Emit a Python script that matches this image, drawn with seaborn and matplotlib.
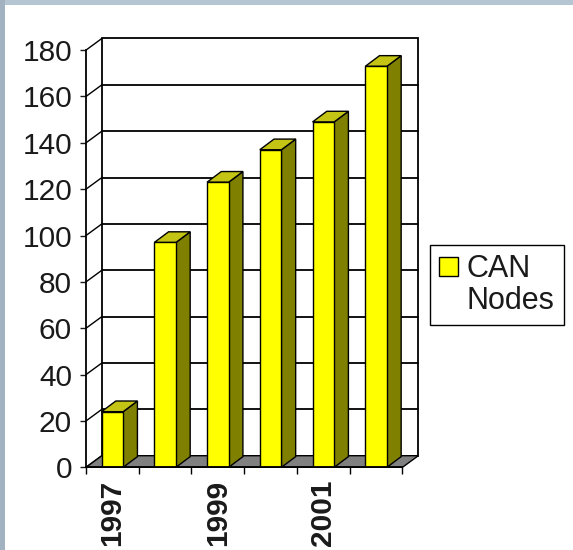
import matplotlib
matplotlib.use('Agg')
import numpy as np
import pandas as pd
import matplotlib.pyplot as plt
import seaborn as sns
from matplotlib.patches import Polygon, Rectangle, Patch

# ---- data ----
years = ['1997', '1998', '1999', '2000', '2001', '2002']
can_nodes = [24, 97, 123, 137, 149, 173]
shown_year_labels = ['1997', '1999', '2001']
y_ticks = [0, 20, 40, 60, 80, 100, 120, 140, 160, 180]
series_name_lines = ['CAN', 'Nodes']

# ---- style ----
sns.set_theme(style='white')
plt.rcParams['font.family'] = ['Liberation Sans', 'DejaVu Sans']

W, H = 573, 550
fig = plt.figure(figsize=(W / 100, H / 100), dpi=100, facecolor='white')

# frame strips (top & left)
fig.patches.append(Rectangle((0, 1 - 5 / H), 1, 5 / H, transform=fig.transFigure,
                             facecolor='#b5c5d1', edgecolor='none', zorder=-5))
fig.patches.append(Rectangle((0, 0), 5 / W, 1, transform=fig.transFigure,
                             facecolor='#a2b2c0', edgecolor='none', zorder=-4))

ax = fig.add_axes([86 / W, 82.7 / H, (418.3 - 86) / W, (467.3 - 38.5) / H])
ax.set_facecolor('none')

DX, DY = 0.30, 5.0      # wall depth offset (data units)
BDX, BDY = 0.27, 4.6    # bar depth offset

df = pd.DataFrame({'year': years, 'nodes': can_nodes})
sns.barplot(data=df, x='year', y='nodes', color='#ffff00', saturation=1,
            width=0.41, edgecolor='black', linewidth=1, ax=ax, zorder=5)

ymax = y_ticks[-1]
x_lo, x_hi = -0.5, len(years) - 0.5

# back wall
ax.add_patch(Polygon([(x_lo + DX, DY), (x_hi + DX, DY), (x_hi + DX, ymax + DY),
                      (x_lo + DX, ymax + DY)], closed=True, facecolor='white',
                     edgecolor='black', lw=1.3, zorder=0.5, clip_on=False))
for v in y_ticks[1:-1]:
    ax.plot([x_lo + DX, x_hi + DX], [v + DY, v + DY], color='black', lw=1.3,
            zorder=1, clip_on=False)
for v in y_ticks:
    ax.plot([x_lo, x_lo + DX], [v, v + DY], color='black', lw=1, zorder=1,
            clip_on=False)

# floor
ax.add_patch(Polygon([(x_lo, 0), (x_hi, 0), (x_hi + DX, DY), (x_lo + DX, DY)],
                     closed=True, facecolor='#808080', edgecolor='black',
                     lw=1, zorder=2, clip_on=False))

# 3D sides and tops for bars
for bar in ax.containers[0]:
    x0, w, h = bar.get_x(), bar.get_width(), bar.get_height()
    ax.add_patch(Polygon([(x0 + w, 0), (x0 + w + BDX, BDY), (x0 + w + BDX, h + BDY),
                          (x0 + w, h)], closed=True, facecolor='#808000',
                         edgecolor='black', lw=1, zorder=4, clip_on=False))
    ax.add_patch(Polygon([(x0, h), (x0 + w, h), (x0 + w + BDX, h + BDY),
                          (x0 + BDX, h + BDY)], closed=True, facecolor='#c4c414',
                         edgecolor='black', lw=1, zorder=4, clip_on=False))

ax.set_xlim(x_lo, x_hi + DX)
ax.set_ylim(0, ymax + DY)

for s in ['top', 'right']:
    ax.spines[s].set_visible(False)
for s in ['left', 'bottom']:
    ax.spines[s].set_color('black')
    ax.spines[s].set_linewidth(1.3)
    ax.spines[s].set_zorder(6)
ax.spines['left'].set_bounds(0, ymax)
ax.spines['bottom'].set_bounds(x_lo, x_hi)

ax.set_yticks(y_ticks)
ax.set_yticklabels([str(v) for v in y_ticks])
ax.tick_params(axis='y', left=True, direction='out', length=4, width=1,
               pad=6, labelsize=21.5, colors='#1a1a1a')

major_pos = [years.index(y) for y in shown_year_labels]
ax.set_xticks(major_pos)
ax.set_xticklabels(shown_year_labels, rotation=90, fontweight='bold')
ax.set_xticks(np.arange(x_lo, x_hi + 0.01, 1.0), minor=True)
ax.tick_params(axis='x', which='major', bottom=True, length=0, pad=9,
               labelsize=21.5, colors='#1a1a1a')
ax.tick_params(axis='x', which='minor', bottom=True, direction='out', length=5,
               width=1, color='black')
ax.set_xlabel('')
ax.set_ylabel('')
ax.grid(False)

handles = [Patch(facecolor='#ffff00', edgecolor='black', lw=1),
           Patch(facecolor='none', edgecolor='none')]
leg = ax.legend(handles=handles, labels=series_name_lines, loc='upper left',
                bbox_to_anchor=(430 / W, 1 - 245 / H), bbox_transform=fig.transFigure,
                frameon=True, fancybox=False, edgecolor='black', framealpha=1,
                fontsize=22, handlelength=0.6, handleheight=0.6,
                handletextpad=0.3, borderpad=0.3, borderaxespad=0,
                labelspacing=0.05, labelcolor='#1a1a1a')
leg.get_frame().set_linewidth(1)

fig.savefig('out.png', dpi=100, facecolor='white')
